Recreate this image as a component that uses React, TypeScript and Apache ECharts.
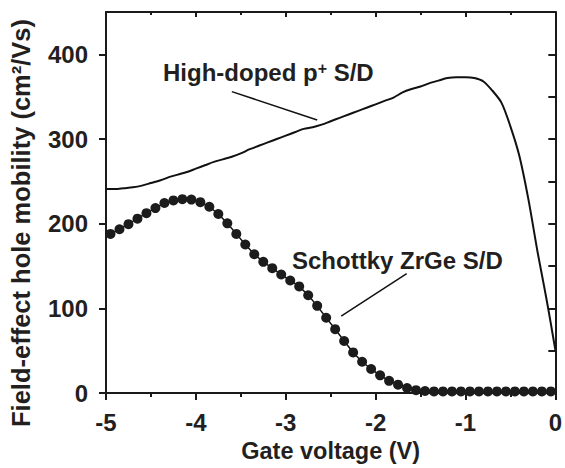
import React, { useEffect, useRef } from "react";
import * as echarts from "echarts";

const FONT = "'Liberation Sans', Arial, Helvetica, sans-serif";

const xTicks = [-5, -4, -3, -2, -1, 0];
const yMajorTicks = [0, 100, 200, 300, 400];
const yMinorTicks = [50, 150, 250, 350];
const yRightTicks = [50, 100, 150, 200, 250, 300, 350, 400];

const xTitle = "Gate voltage (V)";
const yTitle = "Field-effect hole mobility (cm²/Vs)";

// High-doped p+ S/D (solid line)
const highV = [
  -5, -4.9, -4.8, -4.7, -4.6, -4.5, -4.4, -4.3, -4.2, -4.1,
  -4, -3.9, -3.8, -3.7, -3.6, -3.5, -3.4, -3.3, -3.2, -3.1,
  -3, -2.9, -2.8, -2.7, -2.6, -2.5, -2.4, -2.3, -2.2, -2.1,
  -2, -1.9, -1.8, -1.7, -1.6, -1.5, -1.4, -1.3, -1.2, -1.1,
  -1, -0.9, -0.8, -0.7, -0.6, -0.5, -0.4, -0.3, -0.2, -0.15,
  -0.1, -0.05, 0,
];
const highMu = [
  241, 241, 242, 243, 245, 248, 251, 255, 258, 261,
  265, 269, 273, 276, 279, 283, 288, 292, 296, 300,
  304, 308, 312, 314, 317, 321, 325, 329, 333, 337,
  341, 345, 349, 355, 359, 362, 366, 369, 372, 373,
  373, 372, 368, 357, 343, 315, 280, 229, 168, 140,
  112, 82, 51,
];

// Schottky ZrGe S/D (line + filled circles)
const schV = [
  -4.95, -4.85, -4.75, -4.65, -4.55, -4.45, -4.35, -4.25, -4.15, -4.05,
  -3.95, -3.85, -3.75, -3.65, -3.55, -3.45, -3.35, -3.25, -3.15, -3.05,
  -2.95, -2.85, -2.75, -2.65, -2.55, -2.45, -2.35, -2.25, -2.15, -2.05,
  -1.95, -1.85, -1.75, -1.65, -1.55, -1.45, -1.35, -1.25, -1.15, -1.05,
  -0.95, -0.85, -0.75, -0.65, -0.55, -0.45, -0.35, -0.25, -0.15, -0.05,
];
const schMu = [
  188, 193.5, 199.5, 206, 212.5, 218.5, 224.5, 227.5, 229, 228.5,
  225.5, 220, 211.5, 200.5, 188, 175.5, 164, 155, 147.5, 140,
  133, 126, 115.5, 103, 89, 75.5, 61.5, 48, 37, 28.5,
  21, 14.5, 10, 6, 3.5, 2.5, 2, 2, 2, 2,
  2, 2, 2, 2, 2, 2, 2, 2, 2, 2,
];

// annotation anchors (data coords)
const highLabelLine = [[-3.6, 356], [-2.65, 322.5]];
const schLabelLine = [[-1.654, 141], [-2.383, 91]];

export default function App() {
  const ref = useRef<HTMLDivElement>(null);
  useEffect(() => {
    const chart = echarts.init(ref.current!, undefined, { renderer: "svg" });
    const axisColor = "#1a1a1a";
    const labelStyle = {
      fontFamily: FONT,
      fontWeight: "bold" as const,
      fontSize: 24,
      color: "#231f20",
    };
    const option: any = {
      animation: false,
      backgroundColor: "#ffffff",
      grid: { left: 106, right: 5, top: 12, bottom: 73, containLabel: false },
      xAxis: [
        {
          type: "value",
          position: "bottom",
          min: -5,
          max: 0,
          interval: 1,
          axisLine: { show: true, onZero: false, lineStyle: { color: axisColor, width: 2 } },
          axisTick: { show: true, inside: false, length: 7, lineStyle: { color: axisColor, width: 2 } },
          minorTick: { show: true, splitNumber: 2, length: 4, lineStyle: { color: axisColor, width: 2 } },
          splitLine: { show: false },
          axisLabel: { ...labelStyle, margin: 17, formatter: (v: number) => String(v) },
          name: xTitle,
          nameLocation: "middle",
          nameGap: 45,
          nameTextStyle: { ...labelStyle, fontSize: 23.5 },
        },
        {
          type: "value",
          position: "top",
          min: -5,
          max: 0,
          interval: 1,
          axisLine: { show: true, onZero: false, lineStyle: { color: axisColor, width: 2 } },
          axisTick: { show: true, inside: true, length: 5, lineStyle: { color: axisColor, width: 2 } },
          minorTick: { show: true, splitNumber: 2, length: 3, lineStyle: { color: axisColor, width: 2 } },
          splitLine: { show: false },
          axisLabel: { show: false },
        },
      ],
      yAxis: [
        {
          type: "value",
          position: "left",
          min: 0,
          max: 450,
          interval: 50,
          axisLine: { show: true, onZero: false, lineStyle: { color: axisColor, width: 2 } },
          axisTick: { show: true, inside: false, length: 7, customValues: yMajorTicks, lineStyle: { color: axisColor, width: 2 } },
          splitLine: { show: false },
          axisLabel: { ...labelStyle, margin: 18, customValues: yMajorTicks },
        },
        {
          type: "value",
          position: "left",
          min: 0,
          max: 450,
          interval: 50,
          axisLine: { show: false },
          axisTick: { show: true, inside: false, length: 4, customValues: yMinorTicks, lineStyle: { color: axisColor, width: 2 } },
          splitLine: { show: false },
          axisLabel: { show: false },
        },
        {
          type: "value",
          position: "right",
          min: 0,
          max: 450,
          interval: 50,
          axisLine: { show: true, onZero: false, lineStyle: { color: axisColor, width: 2 } },
          axisTick: { show: true, inside: true, length: 7, customValues: yRightTicks, lineStyle: { color: axisColor, width: 2 } },
          splitLine: { show: false },
          axisLabel: { show: false },
        },
      ],
      series: [
        {
          type: "line",
          name: "High-doped p+ S/D",
          xAxisIndex: 0,
          yAxisIndex: 0,
          data: highV.map((v, i) => [v, highMu[i]]),
          showSymbol: false,
          symbol: "none",
          smooth: 0.3,
          lineStyle: { color: "#111", width: 2 },
          z: 3,
        },
        {
          type: "line",
          name: "Schottky ZrGe S/D",
          xAxisIndex: 0,
          yAxisIndex: 0,
          data: schV.map((v, i) => [v, schMu[i]]),
          symbol: "circle",
          symbolSize: 10,
          showAllSymbol: true,
          itemStyle: { color: "#1c1c1c", borderWidth: 0 },
          lineStyle: { color: "#111", width: 1.5 },
          z: 4,
        },
      ],
    };
    chart.setOption(option);

    const p = (c: number[]) => chart.convertToPixel({ xAxisIndex: 0, yAxisIndex: 0 }, c) as number[];
    const h1 = p(highLabelLine[0]);
    const h2 = p(highLabelLine[1]);
    const s1 = p(schLabelLine[0]);
    const s2 = p(schLabelLine[1]);
    const annStyle = { fontFamily: FONT, fontWeight: "bold", fontSize: 24, fill: "#231f20" };

    chart.setOption({
      graphic: [
        {
          type: "text",
          x: 21,
          y: 223,
          rotation: Math.PI / 2,
          style: { ...annStyle, fontSize: 25.5, text: yTitle, align: "center", verticalAlign: "middle" },
        },
        {
          type: "text",
          x: 163,
          y: 72,
          style: {
            text: "{a|High-doped p}{s|+}{a| S/D}",
            align: "left",
            verticalAlign: "middle",
            rich: {
              a: { ...annStyle },
              s: { ...annStyle, fontSize: 16, verticalAlign: "top" },
            },
          },
        },
        {
          type: "text",
          x: 292,
          y: 260,
          style: { ...annStyle, text: "Schottky ZrGe S/D", align: "left", verticalAlign: "middle" },
        },
        {
          type: "line",
          shape: { x1: h1[0], y1: h1[1], x2: h2[0], y2: h2[1] },
          style: { stroke: "#111", lineWidth: 1.5 },
        },
        {
          type: "line",
          shape: { x1: s1[0], y1: s1[1], x2: s2[0], y2: s2[1] },
          style: { stroke: "#111", lineWidth: 1.5 },
        },
      ],
    });

    return () => chart.dispose();
  }, []);
  return (
    <div
      ref={ref}
      style={{ position: "fixed", left: 0, top: 0, width: 565, height: 468, background: "#fff" }}
    />
  );
}
